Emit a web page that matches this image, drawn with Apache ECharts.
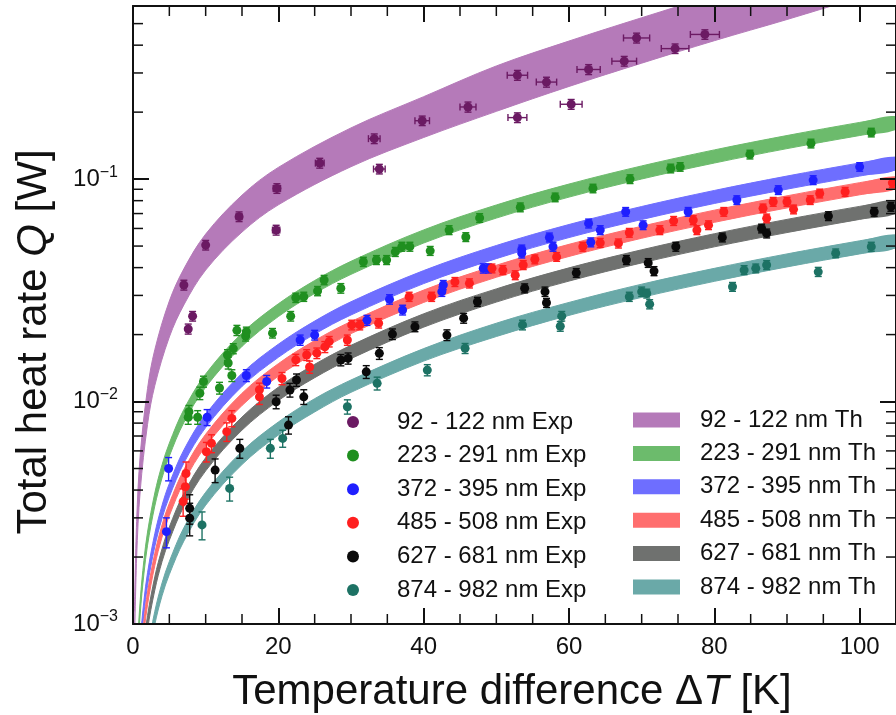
<!DOCTYPE html>
<html>
<head>
<meta charset="utf-8">
<script src="https://cdn.jsdelivr.net/npm/echarts@6/dist/echarts.min.js"></script>
<style>
html, body { margin: 0; padding: 0; background: #fff; }
#chart { width: 896px; height: 715px; }
</style>
</head>
<body>
<div id="chart"></div>
<script>
// ---- Measured heat rates: [ΔT (K), Q (W), σΔT (K), σQ (W)] ----
const exp92 = [
  [7.0, 0.0334, 0.2, 0.0017], [7.6, 0.0212, 0.2, 0.0011], [8.2, 0.0242, 0.2, 0.0012],
  [10.0, 0.0505, 0.3, 0.0025], [14.6, 0.0678, 0.4, 0.0034], [19.8, 0.0908, 0.5, 0.0045],
  [19.7, 0.059, 0.5, 0.003], [25.7, 0.118, 0.6, 0.006], [33.2, 0.152, 0.8, 0.0076],
  [33.9, 0.111, 0.8, 0.0055], [39.8, 0.183, 1.0, 0.009], [46.1, 0.211, 1.1, 0.011],
  [52.9, 0.293, 1.4, 0.015], [52.9, 0.189, 1.3, 0.0095], [56.9, 0.273, 1.4, 0.014],
  [60.3, 0.217, 1.5, 0.011], [62.7, 0.311, 1.6, 0.016], [67.6, 0.339, 1.7, 0.017],
  [69.3, 0.431, 1.8, 0.022], [74.6, 0.386, 1.9, 0.019], [78.7, 0.447, 2.0, 0.022]
];
// ---- [ΔT (K), Q (W), σQ (W)] ----
const exp223 = [
  [7.6, 0.0085, 0.0006], [7.7, 0.0090, 0.0006], [8.9, 0.0085, 0.0006], [9.2, 0.0109, 0.0007],
  [9.7, 0.0123, 0.0007], [11.9, 0.0115, 0.0007], [13.0, 0.0162, 0.0009], [13.1, 0.0149, 0.0009],
  [13.6, 0.0131, 0.0008], [13.8, 0.0173, 0.0009], [14.3, 0.0209, 0.0011], [15.5, 0.0197, 0.001],
  [15.6, 0.0206, 0.001], [19.2, 0.0203, 0.001], [21.7, 0.0242, 0.0012], [22.4, 0.0293, 0.0014],
  [23.5, 0.0296, 0.0014], [25.4, 0.0314, 0.0015], [26.3, 0.0352, 0.0017], [28.6, 0.0323, 0.0016],
  [31.7, 0.0425, 0.002], [33.5, 0.0433, 0.002], [34.9, 0.0433, 0.002], [36.1, 0.0471, 0.0022],
  [37.0, 0.0497, 0.0023], [38.1, 0.0497, 0.0023], [40.9, 0.0476, 0.0022], [43.5, 0.059, 0.0027],
  [45.8, 0.0549, 0.0025], [47.7, 0.0669, 0.003], [53.3, 0.0747, 0.0034], [58.1, 0.0828, 0.0037],
  [63.3, 0.0908, 0.004], [68.4, 0.100, 0.0045], [74.0, 0.1117, 0.005], [75.3, 0.1135, 0.005],
  [84.9, 0.129, 0.0058], [93.3, 0.1446, 0.0065], [101.6, 0.162, 0.0072]
];
const exp372 = [
  [4.6, 0.0026, 0.0004], [4.9, 0.0050, 0.0006], [10.2, 0.0085, 0.0007], [15.6, 0.0131, 0.0008],
  [18.4, 0.0123, 0.0008], [23.0, 0.0189, 0.001], [25.0, 0.0199, 0.001], [32.2, 0.0232, 0.0012],
  [35.3, 0.0288, 0.0014], [37.1, 0.0258, 0.0013], [42.5, 0.0312, 0.0015], [42.7, 0.0334, 0.0016],
  [48.2, 0.0397, 0.0019], [48.9, 0.0397, 0.0019], [53.5, 0.0483, 0.0022], [53.5, 0.0464, 0.0022],
  [57.3, 0.0547, 0.0025], [57.8, 0.0497, 0.0023], [62.7, 0.0632, 0.0029], [63.0, 0.0520, 0.0024],
  [64.3, 0.0590, 0.0027], [67.8, 0.0713, 0.0032], [70.2, 0.0621, 0.0028], [76.4, 0.0713, 0.0032],
  [83.1, 0.0805, 0.0036], [88.8, 0.0893, 0.004], [93.6, 0.0990, 0.0045], [100.0, 0.1135, 0.005]
];
const exp485 = [
  [6.9, 0.00355, 0.0005], [7.2, 0.00414, 0.0005], [7.3, 0.00475, 0.0006], [10.1, 0.00595, 0.0006],
  [10.8, 0.00649, 0.0006], [12.9, 0.00732, 0.0007], [13.6, 0.0084, 0.0007], [17.4, 0.0105, 0.0008],
  [17.4, 0.0113, 0.0008], [20.5, 0.0127, 0.0008], [22.4, 0.0154, 0.0009], [23.9, 0.0162, 0.0009],
  [24.3, 0.0143, 0.0009], [25.3, 0.0165, 0.0009], [26.4, 0.0176, 0.001], [27.0, 0.0186, 0.001],
  [29.5, 0.0189, 0.001], [30.1, 0.0221, 0.0011], [31.2, 0.0221, 0.0011], [33.8, 0.0225, 0.0011],
  [38.0, 0.0296, 0.0014], [41.1, 0.0296, 0.0014], [44.3, 0.0345, 0.0016], [46.3, 0.0340, 0.0016],
  [49.4, 0.0397, 0.0018], [50.9, 0.0390, 0.0018], [52.6, 0.0370, 0.0017], [53.7, 0.0411, 0.0019],
  [55.3, 0.0436, 0.002], [58.3, 0.0447, 0.002], [61.9, 0.0497, 0.0023], [64.3, 0.0517, 0.0024],
  [66.8, 0.0514, 0.0024], [68.3, 0.0574, 0.0026], [72.5, 0.0590, 0.0027], [74.4, 0.0649, 0.003],
  [77.1, 0.0654, 0.003], [77.6, 0.0590, 0.0027], [79.2, 0.0621, 0.0028], [81.3, 0.0713, 0.0032],
  [86.7, 0.0739, 0.0033], [87.2, 0.0666, 0.003], [88.1, 0.0791, 0.0036], [90.0, 0.0791, 0.0036],
  [90.9, 0.0731, 0.0033], [93.2, 0.0805, 0.0036], [94.5, 0.0862, 0.0039], [98.0, 0.0877, 0.004],
  [104.5, 0.0962, 0.0043]
];
const exp627 = [
  [7.8, 0.00299, 0.0005], [7.8, 0.00331, 0.0005], [11.3, 0.00492, 0.0006], [14.7, 0.00616, 0.0006],
  [19.7, 0.00998, 0.0007], [21.4, 0.00784, 0.0007], [21.6, 0.01127, 0.0008], [22.5, 0.0125, 0.0008],
  [23.5, 0.0105, 0.0008], [28.6, 0.01537, 0.0009], [29.6, 0.01563, 0.0009], [32.1, 0.0136, 0.0009],
  [33.9, 0.01647, 0.001], [35.7, 0.0201, 0.0011], [38.8, 0.0217, 0.0011], [43.2, 0.0199, 0.0011],
  [45.5, 0.0237, 0.0012], [47.4, 0.0281, 0.0013], [53.9, 0.0323, 0.0015], [56.7, 0.0312, 0.0015],
  [56.9, 0.0278, 0.0013], [61.0, 0.0379, 0.0017], [67.9, 0.0433, 0.002], [70.9, 0.0420, 0.0019],
  [71.7, 0.0386, 0.0018], [74.7, 0.0497, 0.0023], [81.1, 0.0547, 0.0025], [86.5, 0.0600, 0.0027],
  [87.2, 0.0570, 0.0026], [95.7, 0.0682, 0.0031], [102.0, 0.0713, 0.0032], [104.3, 0.0751, 0.0034]
];
const exp874 = [
  [9.5, 0.00279, 0.0004], [13.3, 0.00407, 0.0005], [18.9, 0.00616, 0.0006], [20.6, 0.00683, 0.0006],
  [29.5, 0.00948, 0.0007], [33.6, 0.01207, 0.0008], [40.5, 0.01385, 0.0008], [45.7, 0.01734, 0.0009],
  [53.6, 0.0221, 0.0011], [58.8, 0.0218, 0.0011], [59.0, 0.0242, 0.0012], [68.3, 0.0296, 0.0014],
  [70.0, 0.0312, 0.0015], [70.7, 0.0306, 0.0014], [71.1, 0.0274, 0.0013], [82.5, 0.0328, 0.0015],
  [84.1, 0.0390, 0.0018], [85.7, 0.0397, 0.0018], [87.2, 0.0411, 0.0019], [94.3, 0.0383, 0.0018],
  [96.7, 0.0464, 0.0021], [101.6, 0.0497, 0.0023]
];

// ---- Theoretical bands: lower / upper bound of Q (W) along ΔT (K) ----
const th92X  = [0.2, 0.5, 1, 2, 3, 5, 7, 10, 15, 20, 30, 40, 50, 60, 70, 80, 90, 100, 105];
const th92Lo = [0.00079, 0.00199, 0.00399, 0.00789, 0.0118, 0.0195, 0.0272, 0.039, 0.0578, 0.0766,
                0.1137, 0.1538, 0.2016, 0.2609, 0.332, 0.419, 0.5217, 0.656, 0.735];
const th92Hi = [0.00114, 0.00289, 0.00578, 0.01144, 0.0171, 0.0283, 0.0395, 0.0566, 0.0847, 0.1129,
                0.1699, 0.2347, 0.3226, 0.4175, 0.5313, 0.6705, 0.835, 1.05, 1.176];

const thX = [0.3, 0.6, 1, 1.5, 2, 3, 4, 5, 7, 10, 15, 20, 25, 30, 40, 50, 60, 70, 80, 90, 100, 105];
const th223Lo = [0.000336, 0.000674, 0.00112, 0.00168, 0.00226, 0.00339, 0.00454, 0.00568, 0.00805, 0.0116, 0.0177,
                 0.0241, 0.0306, 0.0373, 0.0516, 0.0668, 0.0830, 0.1001, 0.1181, 0.1371, 0.1570, 0.1670];
const th223Hi = [0.000385, 0.000771, 0.00129, 0.00193, 0.00259, 0.00388, 0.00520, 0.00650, 0.00921, 0.0133, 0.0203,
                 0.0275, 0.0350, 0.0427, 0.0591, 0.0765, 0.0950, 0.1146, 0.1353, 0.1570, 0.1798, 0.1912];
const th372Lo = [0.000221, 0.000443, 0.000738, 0.00111, 0.00149, 0.00223, 0.00299, 0.00373, 0.00529, 0.00764, 0.0117,
                 0.0158, 0.0201, 0.0245, 0.0339, 0.0439, 0.0546, 0.0658, 0.0777, 0.0901, 0.1032, 0.1098];
const th372Hi = [0.000254, 0.000507, 0.000845, 0.00127, 0.00170, 0.00255, 0.00342, 0.00428, 0.00606, 0.00875, 0.0134,
                 0.0181, 0.0230, 0.0281, 0.0388, 0.0503, 0.0625, 0.0753, 0.0889, 0.1032, 0.1182, 0.1257];
const th485Lo = [0.000182, 0.000364, 0.000607, 0.000911, 0.00122, 0.00183, 0.00246, 0.00307, 0.00435, 0.00629, 0.00960,
                 0.0130, 0.0165, 0.0202, 0.0279, 0.0362, 0.0449, 0.0542, 0.0639, 0.0742, 0.0850, 0.0903];
const th485Hi = [0.000207, 0.000413, 0.000689, 0.00103, 0.00139, 0.00208, 0.00279, 0.00349, 0.00494, 0.00713, 0.0109,
                 0.0148, 0.0188, 0.0229, 0.0317, 0.0410, 0.0509, 0.0614, 0.0725, 0.0841, 0.0964, 0.1025];
const th627Lo = [0.000141, 0.000283, 0.000471, 0.000707, 0.000948, 0.00142, 0.00191, 0.00238, 0.00338, 0.00488, 0.00744,
                 0.0101, 0.0128, 0.0156, 0.0216, 0.0280, 0.0348, 0.0420, 0.0496, 0.0575, 0.0659, 0.0701];
const th627Hi = [0.000162, 0.000324, 0.000539, 0.000809, 0.00109, 0.00163, 0.00218, 0.00273, 0.00387, 0.00559, 0.00852,
                 0.0116, 0.0147, 0.0179, 0.0248, 0.0321, 0.0399, 0.0481, 0.0568, 0.0659, 0.0754, 0.0802];
const th874Lo = [0.0000989, 0.000198, 0.00033, 0.000495, 0.000663, 0.000995, 0.00134, 0.00167, 0.00236, 0.00342, 0.00521,
                 0.00707, 0.00898, 0.0110, 0.0152, 0.0196, 0.0244, 0.0294, 0.0347, 0.0403, 0.0461, 0.0490];
const th874Hi = [0.000113, 0.000227, 0.000377, 0.000566, 0.00076, 0.00114, 0.00153, 0.00191, 0.00271, 0.00391, 0.00597,
                 0.00809, 0.0103, 0.0125, 0.0173, 0.0225, 0.0279, 0.0337, 0.0397, 0.0461, 0.0528, 0.0562];

const expNames = ['92 - 122 nm Exp', '223 - 291 nm Exp', '372 - 395 nm Exp',
                  '485 - 508 nm Exp', '627 - 681 nm Exp', '874 - 982 nm Exp'];
const thNames  = ['92 - 122 nm Th', '223 - 291 nm Th', '372 - 395 nm Th',
                  '485 - 508 nm Th', '627 - 681 nm Th', '874 - 982 nm Th'];

// axis scale / tick values
const xMin = 0, xMax = 105, xMajor = 20;
const xMinorTicks = [5, 10, 15, 25, 30, 35, 45, 50, 55, 65, 70, 75, 85, 90, 95];
const yMin = 0.001, yMax = 0.6;
const yMinorTicks = [0.002, 0.003, 0.004, 0.005, 0.006, 0.007, 0.008, 0.009,
                     0.02, 0.03, 0.04, 0.05, 0.06, 0.07, 0.08, 0.09,
                     0.2, 0.3, 0.4, 0.5];

// ---- styling ----
const FONT = '"Liberation Sans", Arial, Helvetica, sans-serif';
const INK = '#111111';
const dotColors  = ['#6b1a63', '#1f8f1f', '#1f1fff', '#ff1f1f', '#0a0a0a', '#1d7264'];
const bandColors = ['#b57ab9', '#6cbb6c', '#6e6eff', '#ff6e6e', '#6f716f', '#6aa9a8'];
const CURVE_SMOOTH = 0.35;

function errorBars(data, color, withX) {
  return {
    type: 'custom', silent: true, z: 3, clip: true,
    data: data, encode: { x: 0, y: 1 },
    renderItem(params, api) {
      const x = api.value(0), y = api.value(1);
      const dy = withX ? api.value(3) : api.value(2);
      const dx = withX ? api.value(2) : 0;
      const st = () => ({ stroke: color, lineWidth: 1.4 });
      const c = api.coord([x, y]);
      const t = api.coord([x, y + dy]);
      const b = api.coord([x, y - dy]);
      const cap = 3.5;
      const kids = [
        { type: 'line', shape: { x1: c[0], y1: t[1], x2: c[0], y2: b[1] }, style: st() },
        { type: 'line', shape: { x1: c[0] - cap, y1: t[1], x2: c[0] + cap, y2: t[1] }, style: st() },
        { type: 'line', shape: { x1: c[0] - cap, y1: b[1], x2: c[0] + cap, y2: b[1] }, style: st() }
      ];
      if (dx) {
        const l = api.coord([x - dx, y]), r = api.coord([x + dx, y]);
        kids.push(
          { type: 'line', shape: { x1: l[0], y1: c[1], x2: r[0], y2: c[1] }, style: st() },
          { type: 'line', shape: { x1: l[0], y1: c[1] - cap, x2: l[0], y2: c[1] + cap }, style: st() },
          { type: 'line', shape: { x1: r[0], y1: c[1] - cap, x2: r[0], y2: c[1] + cap }, style: st() }
        );
      }
      return { type: 'group', children: kids };
    }
  };
}

function dots(name, data, color) {
  return {
    type: 'scatter', name: name, z: 4, symbolSize: 9,
    data: data.map(p => [p[0], p[1]]),
    itemStyle: { color: color, opacity: 1 },
    emphasis: { disabled: true }
  };
}

// filled region between the lower and upper bound, edged with thin lines
function band(name, xs, lo, hi, color) {
  return {
    type: 'custom', name: name, z: 2, clip: true, silent: true,
    itemStyle: { color: color },
    data: xs.map((x, i) => [x, lo[i], hi[i]]),
    encode: { x: 0, y: [1, 2] },
    renderItem(params, api) {
      if (params.dataIndexInside !== 0) return null;
      const n = params.dataInsideLength;
      const lower = [], upper = [];
      for (let j = 0; j < n; j++) {
        const x = api.value(0, j);
        lower.push(api.coord([x, api.value(1, j)]));
        upper.push(api.coord([x, api.value(2, j)]));
      }
      const outline = lower.concat(upper.slice().reverse());
      return { type: 'group', children: [
        { type: 'polygon', shape: { points: outline, smooth: CURVE_SMOOTH }, style: { fill: color } },
        { type: 'polyline', shape: { points: lower, smooth: CURVE_SMOOTH }, style: { stroke: color, lineWidth: 1, fill: null } },
        { type: 'polyline', shape: { points: upper, smooth: CURVE_SMOOTH }, style: { stroke: color, lineWidth: 1, fill: null } }
      ] };
    }
  };
}

const expSets = [exp92, exp223, exp372, exp485, exp627, exp874];
const bandSets = [
  [th92X, th92Lo, th92Hi], [thX, th223Lo, th223Hi], [thX, th372Lo, th372Hi],
  [thX, th485Lo, th485Hi], [thX, th627Lo, th627Hi], [thX, th874Lo, th874Hi]
];

const series = [];
bandSets.forEach((b, i) => series.push(band(thNames[i], b[0], b[1], b[2], bandColors[i])));
expSets.forEach((d, i) => series.push(errorBars(d, dotColors[i], i === 0)));
expSets.forEach((d, i) => series.push(dots(expNames[i], d, dotColors[i])));

// minor ticks (log decades on left/right, 5 K steps on top/bottom)
series.push({
  type: 'custom', silent: true, z: 10, clip: false,
  data: yMinorTicks.map(v => [xMin, v]), encode: { x: 0, y: 1 },
  renderItem(params, api) {
    const cs = params.coordSys;
    const y = api.coord([xMin, api.value(1)])[1];
    const st = () => ({ stroke: INK, lineWidth: 1.5 });
    return { type: 'group', children: [
      { type: 'line', shape: { x1: cs.x, y1: y, x2: cs.x + 10, y2: y }, style: st() },
      { type: 'line', shape: { x1: cs.x + cs.width, y1: y, x2: cs.x + cs.width - 10, y2: y }, style: st() }
    ] };
  }
});
series.push({
  type: 'custom', silent: true, z: 10, clip: false,
  data: xMinorTicks.map(v => [v, yMin]), encode: { x: 0, y: 1 },
  renderItem(params, api) {
    const cs = params.coordSys;
    const x = api.coord([api.value(0), yMin])[0];
    const st = () => ({ stroke: INK, lineWidth: 1.5 });
    return { type: 'group', children: [
      { type: 'line', shape: { x1: x, y1: cs.y + cs.height, x2: x, y2: cs.y + cs.height - 10 }, style: st() },
      { type: 'line', shape: { x1: x, y1: cs.y, x2: x, y2: cs.y + 10 }, style: st() }
    ] };
  }
});

const axisLine = { show: true, onZero: false, lineStyle: { color: INK, width: 2 } };
const majorTick = { show: true, inside: true, length: 16, lineStyle: { color: INK, width: 2 } };

const option = {
  animation: false,
  backgroundColor: '#ffffff',
  grid: { left: 133, right: 0, top: 6, bottom: 91, containLabel: false },
  xAxis: [
    { type: 'value', min: xMin, max: xMax, interval: xMajor, position: 'bottom', z: 10,
      axisLine: axisLine, axisTick: majorTick, splitLine: { show: false },
      axisLabel: { fontSize: 24, color: INK, fontFamily: FONT, margin: 11, showMaxLabel: false } },
    { type: 'value', min: xMin, max: xMax, interval: xMajor, position: 'top', z: 10,
      axisLine: axisLine, axisTick: majorTick, splitLine: { show: false }, axisLabel: { show: false } }
  ],
  yAxis: [
    { type: 'log', logBase: 10, min: yMin, max: yMax, position: 'left', z: 10,
      axisLine: axisLine, axisTick: majorTick, splitLine: { show: false },
      axisLabel: {
        margin: 15, showMaxLabel: false, color: INK, fontFamily: FONT,
        formatter: v => '{b|10}{s|\u2212' + Math.abs(Math.round(Math.log10(v))) + '}',
        rich: {
          b: { fontSize: 24, fontFamily: FONT, color: INK },
          s: { fontSize: 16, fontFamily: FONT, color: INK, padding: [0, 0, 14, 0] }
        }
      } },
    { type: 'log', logBase: 10, min: yMin, max: yMax, position: 'right', z: 10,
      axisLine: axisLine, axisTick: majorTick, splitLine: { show: false }, axisLabel: { show: false } }
  ],
  legend: [
    { data: expNames, orient: 'vertical', left: 347, top: 410, padding: 0,
      icon: 'circle', itemWidth: 12, itemHeight: 12, itemGap: 9.6, selectedMode: false,
      textStyle: { fontSize: 24, fontFamily: FONT, color: INK, lineHeight: 24, padding: [0, 0, 0, 33] } },
    { data: thNames, orient: 'vertical', left: 633, top: 408, padding: 0,
      icon: 'rect', itemWidth: 47, itemHeight: 15, itemGap: 9.4, selectedMode: false,
      textStyle: { fontSize: 24, fontFamily: FONT, color: INK, lineHeight: 24, padding: [0, 0, 0, 15] } }
  ],
  graphic: [
    { type: 'text', x: 34, y: 342, rotation: Math.PI / 2, silent: true,
      style: { text: 'Total heat rate {i|Q} [W]', fontSize: 42, fontFamily: FONT, fill: INK,
               align: 'center', verticalAlign: 'middle',
               rich: { i: { fontSize: 42, fontFamily: FONT, fontStyle: 'italic', fill: INK } } } },
    { type: 'text', x: 512, y: 692, silent: true,
      style: { text: 'Temperature difference \u0394{i|T} [K]', fontSize: 42, fontFamily: FONT, fill: INK,
               align: 'center', verticalAlign: 'middle',
               rich: { i: { fontSize: 42, fontFamily: FONT, fontStyle: 'italic', fill: INK } } } }
  ],
  series: series
};

const chart = echarts.init(document.getElementById('chart'));
chart.setOption(option);
</script>
</body>
</html>
